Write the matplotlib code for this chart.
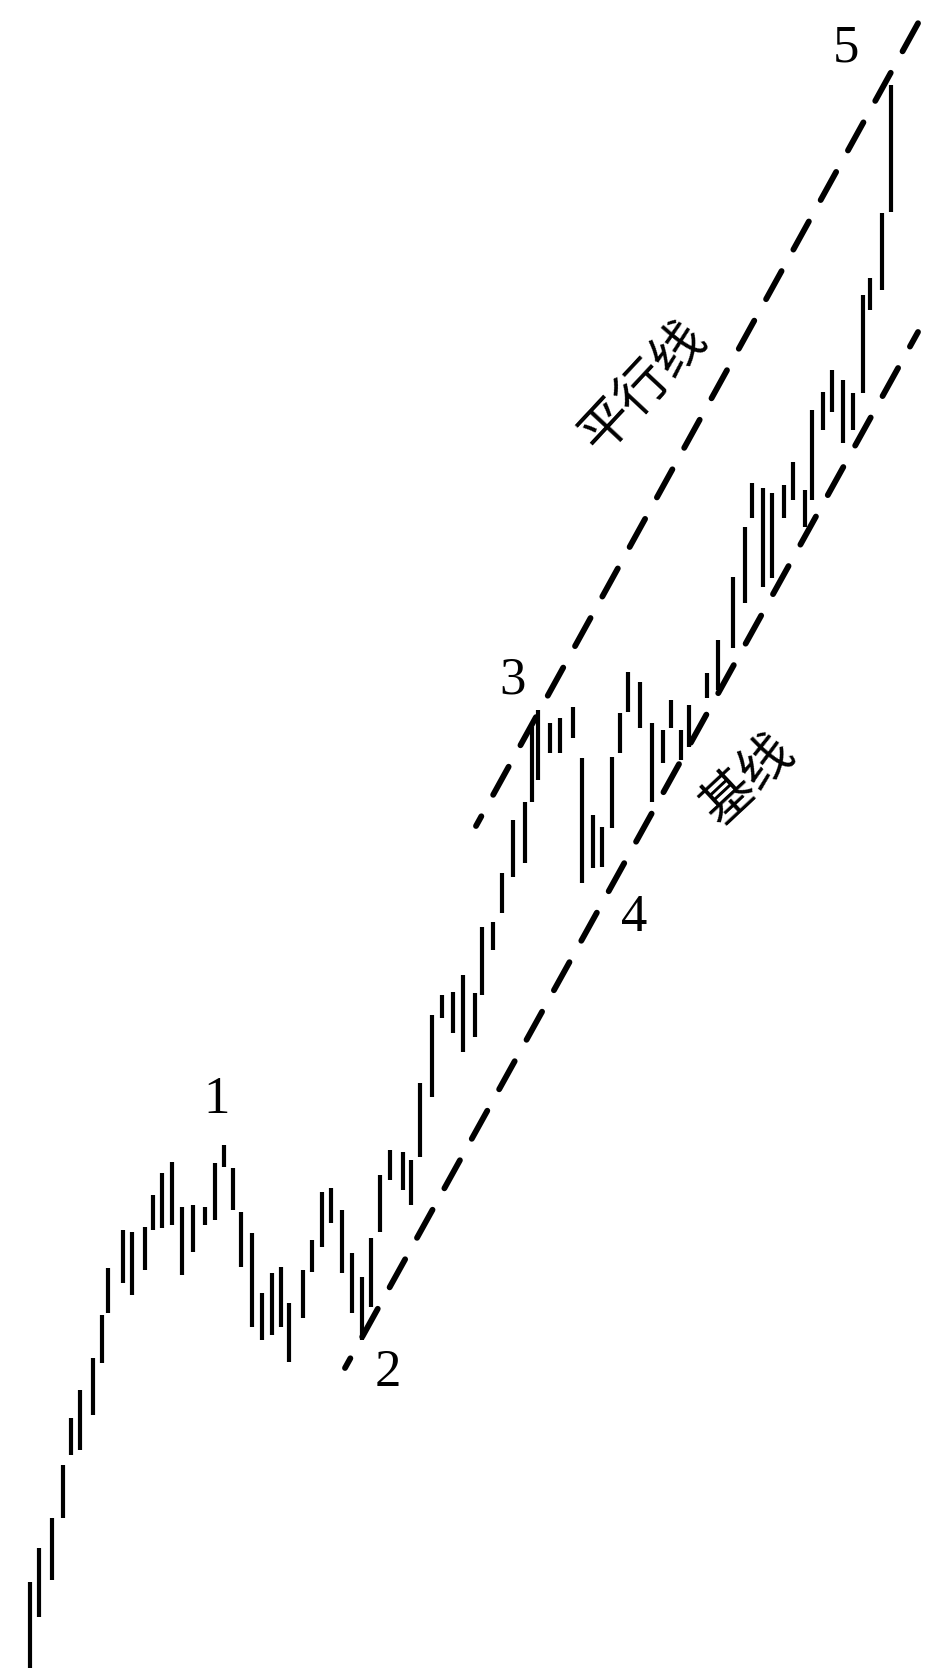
import numpy as np
import matplotlib
matplotlib.use('Agg')
import matplotlib.pyplot as plt

# bar positions and high/low prices
bar_x = [30, 39, 52, 63, 71, 80, 93, 102, 108, 123, 132, 145, 153, 162, 172, 182, 193, 205, 215, 224,
         233, 241, 252, 262, 272, 281, 289, 303, 312, 322, 331, 342, 352, 362, 371, 380, 390, 403, 411, 420,
         432, 442, 453, 463, 475, 482, 493, 502, 513, 525, 532, 538, 550, 560, 573, 582, 593, 602, 612, 620,
         628, 640, 652, 663, 671, 681, 689, 707, 718, 733, 745, 752, 763, 772, 784, 793, 805, 812, 823, 832,
         843, 853, 863, 870, 882, 891]
high = [90, 124, 154, 207, 254, 282, 314, 357, 404, 442, 440, 445, 477, 499, 510, 465, 467, 465, 509, 527,
        504, 460, 439, 379, 399, 405, 369, 402, 432, 480, 484, 462, 419, 395, 434, 497, 522, 520, 512, 589,
        657, 677, 680, 697, 679, 745, 750, 799, 852, 870, 945, 962, 949, 954, 965, 914, 857, 845, 915, 959,
        1000, 990, 949, 942, 972, 942, 967, 999, 1032, 1095, 1145, 1189, 1184, 1179, 1187, 1210, 1182, 1262, 1280, 1302,
        1292, 1279, 1377, 1394, 1459, 1587]
low = [4, 55, 92, 154, 217, 222, 257, 309, 359, 389, 377, 402, 442, 444, 447, 397, 420, 447, 452, 505,
       462, 405, 345, 332, 337, 345, 310, 354, 400, 425, 449, 399, 359, 332, 365, 440, 492, 482, 467, 515,
       575, 654, 639, 620, 635, 677, 722, 759, 795, 809, 870, 892, 919, 919, 934, 789, 804, 805, 844, 919,
       960, 944, 870, 909, 944, 912, 925, 974, 982, 1024, 1069, 1154, 1085, 1094, 1154, 1172, 1145, 1172, 1242, 1260,
       1229, 1242, 1279, 1362, 1382, 1460]

# channel lines (base line and parallel line)
base_x = [345, 918]
base_y = [304, 1340]
par_x = [476, 922]
par_y = [846, 1656]

wave_labels = ['1', '2', '3', '4', '5']
wave_x = [217, 388, 513, 634, 846]
wave_y = [572, 299, 991, 754, 1623]

fig = plt.figure(figsize=(9.42, 16.72), dpi=100)
ax = fig.add_axes([0, 0, 1, 1])
ax.set_xlim(0, 942)
ax.set_ylim(0, 1672)
ax.axis('off')

ax.vlines(bar_x, low, high, colors='black', linewidth=3.0)

ax.plot(base_x, base_y, color='black', linewidth=4.2, linestyle=(3.6, (5.5, 4.2)), dash_capstyle='round')
ax.plot(par_x, par_y, color='black', linewidth=4.2, linestyle=(3.6, (5.5, 4.2)), dash_capstyle='round')

for i, lab in enumerate(wave_labels):
	ax.text(wave_x[i], wave_y[i], lab, fontsize=38, family='Liberation Serif',
		ha='center', va='center')

ax.text(643, 1285, '平行线', fontsize=38, family=['Noto Sans CJK SC', 'DejaVu Sans'],
	rotation=47, ha='center', va='center', rotation_mode='anchor')
ax.text(747, 892, '基线', fontsize=38, family=['Noto Sans CJK SC', 'DejaVu Sans'],
	rotation=43, ha='center', va='center', rotation_mode='anchor')

fig.savefig('out.png', dpi=100, facecolor='white')
